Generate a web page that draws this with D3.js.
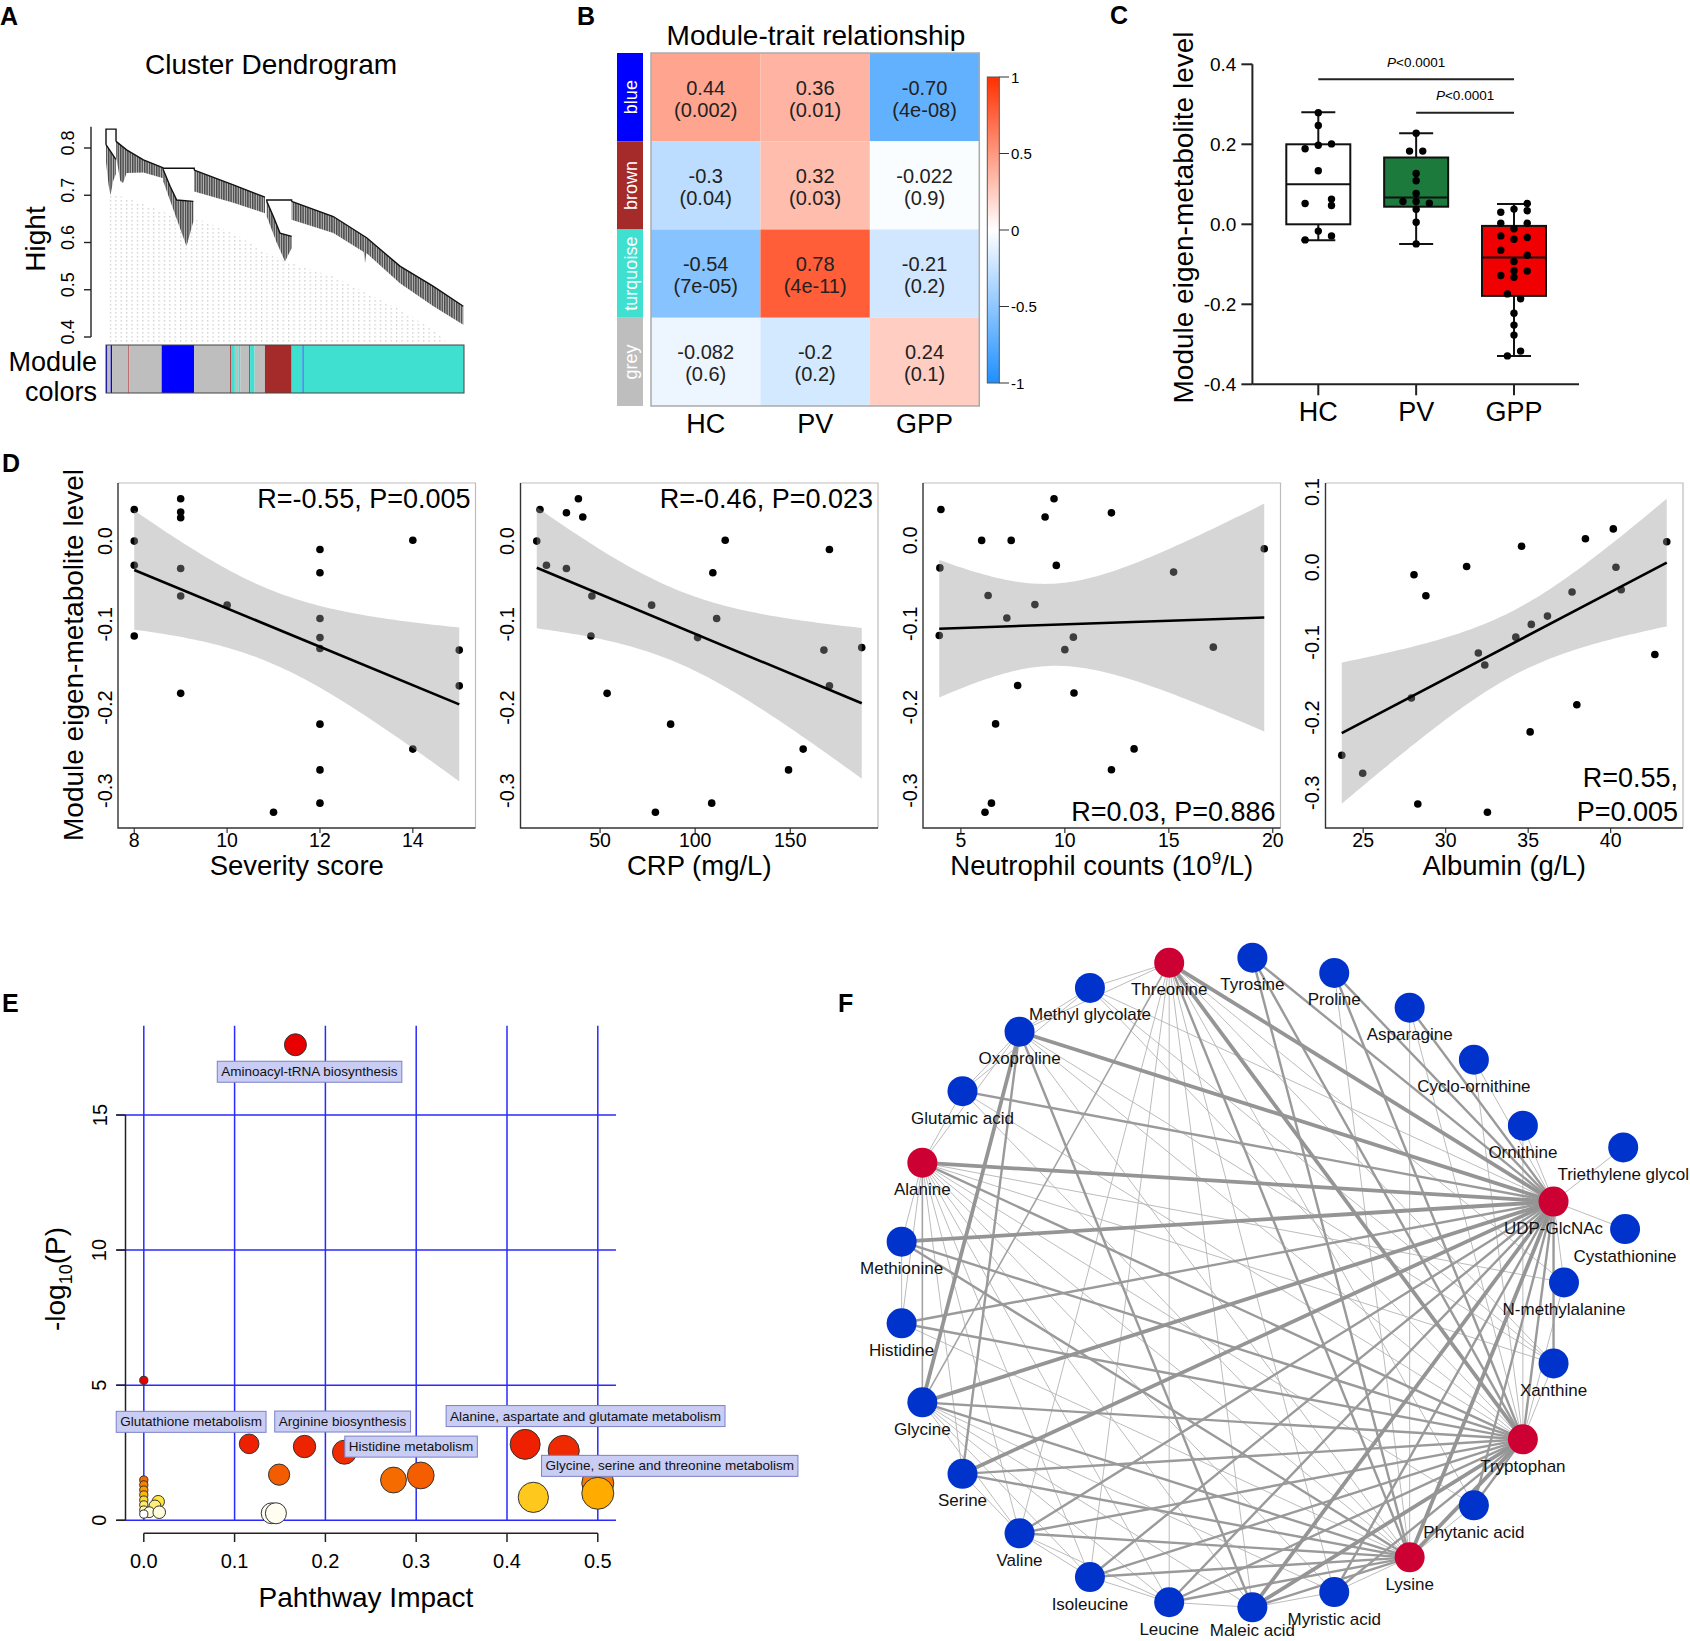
<!DOCTYPE html>
<html lang="en">
<head>
<meta charset="UTF-8">
<title>Module figure</title>
<style>
  body { margin: 0; background: #fff; }
  svg text { font-family: "Liberation Sans", Arial, sans-serif; }
</style>
</head>
<body>
<script src="https://cdn.jsdelivr.net/npm/d3@7"></script>
<script>
// ---------------- data ----------------
// A: dendrogram (leaf position 0-200, merge height)
const dendroTicks = [0.4, 0.5, 0.6, 0.7, 0.8];
const dendroBranches = [
  {top: [[0,0.807],[3,0.79],[5.5,0.776]], bottom: [[0,0.77],[1.5,0.72],[2.5,0.70],[4,0.73],[5.5,0.745]]},
  {top: [[5.6,0.814],[11.5,0.796],[20.9,0.775],[32,0.758]], bottom: [[5.6,0.782],[8,0.73],[9.5,0.726],[11.5,0.747],[20.9,0.748],[32,0.736]]},
  {top: [[32,0.754],[35.8,0.719],[39.5,0.69],[48.8,0.687]], bottom: [[32,0.729],[37.6,0.67],[42.3,0.62],[45,0.592],[47,0.62],[48.8,0.645]]},
  {top: [[49.3,0.753],[71.1,0.722],[88.8,0.696]], bottom: [[49.3,0.708],[71.1,0.684],[88.8,0.662]]},
  {top: [[89.8,0.687],[93.5,0.655],[97.2,0.62],[103.7,0.613]], bottom: [[89.8,0.655],[95.3,0.6],[100,0.56],[103.7,0.588]]},
  {top: [[103.7,0.687],[127,0.655],[145.6,0.61],[164.2,0.55],[182.9,0.507],[199.6,0.465]],
   bottom: [[103.7,0.648],[127,0.62],[144,0.58],[144.7,0.556],[145.4,0.578],[164.2,0.514],[182.9,0.465],[199.6,0.426]]}
];
const dendroLinks = [[0, 5.6, 0.84, 0.807, 0.814], [32, 49.3, 0.757, 0.754, 0.753], [89.8, 103.7, 0.69, 0.687, 0.687]];
const dendroShadow = [[2,0.705],[15,0.69],[34,0.662],[52.5,0.648],[71,0.62],[89.8,0.578],[108.4,0.55],[127,0.528],[145.6,0.493],[164.2,0.458],[182.9,0.415],[190,0.39]];
const shadowBase = 0.385;
const moduleSegments = [
  [0,0.8,'blue'],[0.8,2.6,'grey'],[2.6,3.4,'blue'],[3.4,12.5,'grey'],[12.5,13,'brown'],[13,31.1,'grey'],
  [31.1,49.3,'blue'],[49.3,69.3,'grey'],[69.3,69.8,'brown'],[69.8,72,'turquoise'],[72,74,'grey'],
  [74,75,'turquoise'],[75,80,'grey'],[80,80.5,'brown'],[80.5,83,'turquoise'],[83,88.8,'grey'],
  [88.8,103.7,'brown'],[103.7,109.9,'turquoise'],[109.9,110.4,'blue'],[110.4,200,'turquoise']
];
const moduleColor = {blue: '#0000ff', brown: '#a52a2a', turquoise: '#40e0d0', grey: '#bebebe'};

// B: module-trait correlations
const modules = ['blue', 'brown', 'turquoise', 'grey'];
const traits = ['HC', 'PV', 'GPP'];
const corVals = [[0.44, 0.36, -0.70], [-0.3, 0.32, -0.022], [-0.54, 0.78, -0.21], [-0.082, -0.2, 0.24]];
const corText = [['0.44', '0.36', '-0.70'], ['-0.3', '0.32', '-0.022'], ['-0.54', '0.78', '-0.21'], ['-0.082', '-0.2', '0.24']];
const pText = [['0.002', '0.01', '4e-08'], ['0.04', '0.03', '0.9'], ['7e-05', '4e-11', '0.2'], ['0.6', '0.2', '0.1']];
const barTicks = [-1, -0.5, 0, 0.5, 1];

// C: box plots (min, q1, median, q3, max) and points
const groups = ['HC', 'PV', 'GPP'];
const boxStats = [[-0.04, 0.0, 0.1, 0.2, 0.28], [-0.049, 0.044, 0.067, 0.167, 0.2275], [-0.329, -0.179, -0.083, -0.004, 0.051]];
const boxFill = ['#ffffff', '#1b7a3c', '#f00000'];
const hcPts = [0.279, 0.247, 0.189, 0.1975, 0.201, 0.134, 0.052, 0.063, 0.047, -0.017, -0.029, -0.039];
const hcLane = [0, 0, -1, 0, 1, 0, -1, 1, 1, 0, 1, -1];
const pvPts = [0.2275, 0.183, 0.183, 0.127, 0.109, 0.077, 0.057, 0.057, 0.0525, 0.0375, 0.005, -0.049];
const pvLane = [0, -0.5, 0.5, 0, 0, 0, -1, 0, 1, 0, 0, 0];
const gppPts = [0.052, 0.038, 0.034, 0.030, 0.0025, 0.0025, -0.011, -0.029, -0.0375, -0.033, -0.065, -0.0775,
  -0.093, -0.128, -0.116, -0.117, -0.1325, -0.174, -0.186, -0.2225, -0.252, -0.277, -0.317, -0.329];
const gppLane = [1, 0, 1, -1, -1, 1, 0, -1, 0, 1, -1, 1, 0, -1, 0, 1, 0, -0.5, 0.5, 0, 0, 0, 0.5, -0.5];
const cTicks = [-0.4, -0.2, 0, 0.2, 0.4];
const sigText = 'P<0.0001';

// D: correlations with clinical indices
const sevX = [8, 8, 8, 8, 9, 9, 9, 9, 9, 9, 10, 11, 12, 12, 12, 12, 12, 12, 12, 12, 14, 14, 15, 15];
const sevY = [0.038, 0.0, -0.029, -0.114, 0.051, 0.035, 0.028, -0.033, -0.066, -0.183, -0.077, -0.326,
  -0.010, -0.038, -0.093, -0.116, -0.129, -0.220, -0.275, -0.315, 0.001, -0.25, -0.131, -0.174];
const crpX = [16.7, 18.4, 21.8, 32.3, 32.3, 38.6, 40.9, 45.7, 45.2, 53.7, 77.1, 79.1, 87.1, 101.3, 109.3, 108.7,
  111.3, 115.8, 149.1, 156.8, 167.7, 170.6, 170.6, 187.6];
const crpY = [0.0, 0.038, -0.029, 0.034, -0.033, 0.051, 0.029, -0.066, -0.114, -0.183, -0.077, -0.326, -0.220,
  -0.116, -0.038, -0.315, -0.093, 0.001, -0.275, -0.25, -0.131, -0.010, -0.174, -0.128];
const neuX = [4.04, 3.99, 3.96, 6.0, 6.31, 6.67, 6.16, 6.47, 7.42, 7.21, 7.73, 8.56, 9.05, 9.48, 9.59, 10.0,
  10.41, 10.44, 12.24, 12.24, 13.33, 15.23, 17.14, 19.59];
const neuY = [0.037, -0.033, -0.114, 0.0, -0.066, -0.220, -0.326, -0.315, 0.0, -0.093, -0.174, -0.077, 0.028,
  0.050, -0.030, -0.131, -0.116, -0.183, 0.033, -0.275, -0.25, -0.038, -0.128, -0.010];
const albX = [23.70, 24.97, 27.92, 28.08, 28.31, 28.80, 31.27, 31.98, 32.37, 32.53, 34.25, 34.6, 35.19, 35.12,
  36.17, 37.66, 37.95, 38.47, 40.16, 40.32, 40.64, 42.68, 43.40];
const albY = [-0.250, -0.274, -0.174, -0.010, -0.315, -0.038, 0.001, -0.114, -0.130, -0.326, -0.093, 0.028,
  -0.076, -0.219, -0.065, -0.033, -0.183, 0.038, 0.051, 0.0, -0.030, -0.116, 0.034];
const sevTicks = [8, 10, 12, 14];
const crpTicks = [50, 100, 150];
const neuTicks = [5, 10, 15, 20];
const albTicks = [25, 30, 35, 40];
const eigenTicks = [0.1, 0.0, -0.1, -0.2, -0.3];
const tQuant = {21: 2.080, 22: 2.074};

// E: pathway analysis
const pathImpact = [0.167, 0.0, 0.116, 0.149, 0.177, 0.221, 0.1408, 0.1455, 0.275, 0.305, 0.420, 0.4625, 0.5, 0.429, 0.5,
  0, 0, 0, 0, 0, 0, 0, 0.0159, 0.0123, 0.006, 0.017, 0];
const pathLogP = [17.6, 5.18, 2.83, 1.69, 2.73, 2.52, 0.26, 0.26, 1.49, 1.66, 2.81, 2.57, 1.37, 0.85, 1.0,
  1.49, 1.31, 1.12, 0.94, 0.75, 0.57, 0.38, 0.69, 0.53, 0.30, 0.30, 0.23];
const pathLabelIdx = [0, 2, 4, 5, 10, 11];
const pathLabels = ['Aminoacyl-tRNA biosynthesis', 'Glutathione metabolism', 'Arginine biosynthesis',
  'Histidine metabolism', 'Alanine, aspartate and glutamate metabolism', 'Glycine, serine and threonine metabolism'];
const eXTicks = [0, 0.1, 0.2, 0.3, 0.4, 0.5];
const eYTicks = [0, 5, 10, 15];

// F: correlation network
const ringNodes = ['Threonine', 'Tyrosine', 'Proline', 'Asparagine', 'Cyclo-ornithine', 'Ornithine', 'UDP-GlcNAc',
  'N-methylalanine', 'Xanthine', 'Tryptophan', 'Phytanic acid', 'Lysine', 'Myristic acid', 'Maleic acid', 'Leucine',
  'Isoleucine', 'Valine', 'Serine', 'Glycine', 'Histidine', 'Methionine', 'Alanine', 'Glutamic acid', 'Oxoproline',
  'Methyl glycolate'];
const outerNodes = [['Triethylene glycol', 70.6, 1.249], ['Cystathionine', 82.1, 1.195]];
const hubNodes = ['Threonine', 'UDP-GlcNAc', 'Tryptophan', 'Lysine', 'Alanine'];
const edges = [
  ['UDP-GlcNAc','Threonine',3],['UDP-GlcNAc','Tyrosine',2],['UDP-GlcNAc','Proline',2],['UDP-GlcNAc','Asparagine',2],
  ['UDP-GlcNAc','Cyclo-ornithine',1],['UDP-GlcNAc','Ornithine',1],['UDP-GlcNAc','Triethylene glycol',1],
  ['UDP-GlcNAc','Cystathionine',1],['UDP-GlcNAc','N-methylalanine',1],['UDP-GlcNAc','Xanthine',2],
  ['UDP-GlcNAc','Tryptophan',2],['UDP-GlcNAc','Phytanic acid',2],['UDP-GlcNAc','Lysine',3],['UDP-GlcNAc','Myristic acid',2],
  ['UDP-GlcNAc','Maleic acid',3],['UDP-GlcNAc','Leucine',2],['UDP-GlcNAc','Isoleucine',2],['UDP-GlcNAc','Valine',2],
  ['UDP-GlcNAc','Serine',3],['UDP-GlcNAc','Glycine',3],['UDP-GlcNAc','Histidine',2],['UDP-GlcNAc','Methionine',3],
  ['UDP-GlcNAc','Alanine',3],['UDP-GlcNAc','Glutamic acid',2],['UDP-GlcNAc','Oxoproline',3],['UDP-GlcNAc','Methyl glycolate',1],
  ['Tryptophan','Threonine',3],['Tryptophan','Tyrosine',2],['Tryptophan','Proline',2],['Tryptophan','Asparagine',1],
  ['Tryptophan','Cyclo-ornithine',1],['Tryptophan','Ornithine',1],['Tryptophan','N-methylalanine',1],['Tryptophan','Xanthine',1],
  ['Tryptophan','Phytanic acid',2],['Tryptophan','Lysine',3],['Tryptophan','Myristic acid',2],['Tryptophan','Maleic acid',3],
  ['Tryptophan','Leucine',2],['Tryptophan','Isoleucine',2],['Tryptophan','Valine',2],['Tryptophan','Serine',2],
  ['Tryptophan','Glycine',2],['Tryptophan','Histidine',2],['Tryptophan','Methionine',2],['Tryptophan','Alanine',2],
  ['Tryptophan','Glutamic acid',1],['Tryptophan','Oxoproline',1],['Tryptophan','Methyl glycolate',1],
  ['Lysine','Threonine',2],['Lysine','Tyrosine',2],['Lysine','Proline',1],['Lysine','Asparagine',1],['Lysine','Phytanic acid',1],
  ['Lysine','Myristic acid',1],['Lysine','Maleic acid',2],['Lysine','Leucine',2],['Lysine','Isoleucine',2],['Lysine','Valine',2],
  ['Lysine','Serine',2],['Lysine','Glycine',2],['Lysine','Histidine',1],['Lysine','Methionine',2],['Lysine','Alanine',1],
  ['Lysine','Glutamic acid',1],['Lysine','Oxoproline',1],
  ['Threonine','Methyl glycolate',1],['Threonine','Oxoproline',1],['Threonine','Glycine',1.5],['Threonine','Leucine',1],
  ['Threonine','Maleic acid',1],['Threonine','Isoleucine',1],['Threonine','Myristic acid',1],['Threonine','Valine',1],
  ['Threonine','Phytanic acid',1],['Threonine','Xanthine',1],['Threonine','N-methylalanine',1],
  ['Alanine','Glycine',1.5],['Alanine','Methionine',1],['Alanine','Histidine',1],['Alanine','Glutamic acid',1],
  ['Alanine','Oxoproline',1],['Alanine','Xanthine',1],['Alanine','Leucine',1],['Alanine','Maleic acid',1],
  ['Alanine','Isoleucine',1],['Alanine','Valine',1],['Alanine','Phytanic acid',1],['Alanine','Myristic acid',1],
  ['Alanine','Serine',1],['Alanine','N-methylalanine',1],
  ['Oxoproline','Glycine',3],['Oxoproline','Serine',2],['Oxoproline','Maleic acid',2],['Oxoproline','Glutamic acid',1],
  ['Oxoproline','Methyl glycolate',1],['Oxoproline','Xanthine',1],['Glutamic acid','Methyl glycolate',1],
  ['Methionine','Histidine',1],['Glycine','Isoleucine',1],['Glycine','Leucine',1],['Glycine','Maleic acid',1],
  ['Glycine','Myristic acid',1],['Glycine','Valine',1],['Serine','Valine',1],['Valine','Isoleucine',1],
  ['Isoleucine','Leucine',1],['Leucine','Maleic acid',1],['Maleic acid','Myristic acid',1],['Valine','Leucine',1],
  ['Methyl glycolate','Xanthine',1]
];

// ---------------- helpers ----------------
const W = 1690, H = 1641;
const svg = d3.select('body').append('svg').attr('width', W).attr('height', H);
svg.append('rect').attr('width', W).attr('height', H).attr('fill', '#fff');
const defs = svg.append('defs');

function txt(g, x, y, s, o = {}) {
  const t = g.append('text').attr('x', x).attr('y', y).text(s)
    .attr('font-size', o.size || 20)
    .attr('text-anchor', o.anchor || 'start')
    .attr('fill', o.fill || '#000');
  if (o.weight) t.attr('font-weight', o.weight);
  if (o.family) t.attr('font-family', o.family);
  if (o.rotate) t.attr('transform', `rotate(${o.rotate},${x},${y})`);
  if (o.baseline) t.attr('dominant-baseline', o.baseline);
  return t;
}

// panel letters
[['A', 0, 25], ['B', 577, 25], ['C', 1110, 24], ['D', 2, 472], ['E', 2, 1012], ['F', 838, 1012]]
  .forEach(d => txt(svg, d[1], d[2], d[0], {size: 25, weight: 'bold'}));

// ---------------- A ----------------
{
  const g = svg.append('g');
  const x = d3.scaleLinear().domain([0, 200]).range([106, 464]);
  const y = d3.scaleLinear().domain([0.4, 0.8]).range([337, 148]);
  const dots = defs.append('pattern').attr('id', 'dots').attr('patternUnits', 'userSpaceOnUse')
    .attr('width', 5.4).attr('height', 4);
  dots.append('rect').attr('x', 2).attr('width', 1).attr('height', 1.6).attr('fill', '#c4c4c4');
  const comb = defs.append('pattern').attr('id', 'comb').attr('patternUnits', 'userSpaceOnUse')
    .attr('width', 2.4).attr('height', 8);
  comb.append('rect').attr('width', 2.4).attr('height', 8).attr('fill', '#bdbdbd');
  comb.append('rect').attr('width', 1.4).attr('height', 8).attr('fill', '#474747');

  g.append('path')
    .attr('d', d3.area().x(d => x(d[0])).y0(y(shadowBase)).y1(d => y(d[1]))(dendroShadow))
    .attr('fill', 'url(#dots)');
  const line = d3.line().x(d => x(d[0])).y(d => y(d[1]));
  dendroBranches.forEach(b => {
    g.append('path').attr('d', line(b.top.concat(b.bottom.slice().reverse())) + 'Z').attr('fill', 'url(#comb)');
    g.append('path').attr('d', line(b.top)).attr('fill', 'none').attr('stroke', '#111').attr('stroke-width', 1.4);
  });
  dendroLinks.forEach(l => {
    g.append('path')
      .attr('d', `M${x(l[0])},${y(l[3])}V${y(l[2])}H${x(l[1])}V${y(l[4])}`)
      .attr('fill', 'none').attr('stroke', '#111').attr('stroke-width', 1.4);
  });
  // axis
  g.append('line').attr('x1', 91).attr('x2', 91).attr('y1', y(0.845)).attr('y2', y(0.4))
    .attr('stroke', '#222').attr('stroke-width', 1.4);
  dendroTicks.forEach(v => {
    g.append('line').attr('x1', 84).attr('x2', 91).attr('y1', y(v)).attr('y2', y(v)).attr('stroke', '#222').attr('stroke-width', 1.4);
    txt(g, 74, y(v) - 5, v.toFixed(1), {size: 18, anchor: 'middle', rotate: -90});
  });
  txt(g, 45, 239, 'Hight', {size: 28, anchor: 'middle', rotate: -90});
  txt(g, 271, 74, 'Cluster Dendrogram', {size: 28, anchor: 'middle'});
  // module colour bar
  moduleSegments.forEach(s => {
    g.append('rect').attr('x', x(s[0])).attr('width', x(s[1]) - x(s[0])).attr('y', 345).attr('height', 48)
      .attr('fill', moduleColor[s[2]]);
  });
  g.append('rect').attr('x', x(0)).attr('width', x(200) - x(0)).attr('y', 345).attr('height', 48)
    .attr('fill', 'none').attr('stroke', '#444').attr('stroke-width', 1);
  txt(g, 97, 370.5, 'Module', {size: 27, anchor: 'end'});
  txt(g, 97, 401, 'colors', {size: 27, anchor: 'end'});
}

// ---------------- B ----------------
{
  const g = svg.append('g');
  const x = d3.scaleBand().domain(traits).range([651, 979.3]);
  const y = d3.scaleBand().domain(modules).range([53, 406]);
  const col = d3.scaleLinear().domain([-1, 0, 1]).range(['#1f8fff', '#ffffff', '#ff3000']);
  modules.forEach((m, i) => {
    g.append('rect').attr('x', 617).attr('width', 26).attr('y', y(m)).attr('height', y.bandwidth())
      .attr('fill', moduleColor[m]);
    txt(g, 636.5, y(m) + y.bandwidth() / 2, m, {size: 18, anchor: 'middle', fill: '#fff', rotate: -90});
    traits.forEach((t, j) => {
      g.append('rect').attr('x', x(t)).attr('y', y(m)).attr('width', x.bandwidth()).attr('height', y.bandwidth())
        .attr('fill', col(corVals[i][j]));
      const cx = x(t) + x.bandwidth() / 2, cy = y(m) + y.bandwidth() / 2;
      txt(g, cx, cy - 2.5, corText[i][j], {size: 20, anchor: 'middle', fill: '#222'});
      txt(g, cx, cy + 19.5, '(' + pText[i][j] + ')', {size: 20, anchor: 'middle', fill: '#222'});
    });
  });
  g.append('rect').attr('x', 651).attr('y', 53).attr('width', 328.3).attr('height', 353)
    .attr('fill', 'none').attr('stroke', '#aaa').attr('stroke-width', 1.5);
  traits.forEach(t => txt(g, x(t) + x.bandwidth() / 2, 432.7, t, {size: 27, anchor: 'middle'}));
  txt(g, 816, 45, 'Module-trait relationship', {size: 28, anchor: 'middle'});
  // colour bar
  const grad = defs.append('linearGradient').attr('id', 'cbar').attr('x1', 0).attr('x2', 0).attr('y1', 1).attr('y2', 0);
  [-1, -0.5, 0, 0.5, 1].forEach(v => grad.append('stop').attr('offset', (v + 1) / 2).attr('stop-color', col(v)));
  const yb = d3.scaleLinear().domain([-1, 1]).range([383, 77]);
  g.append('rect').attr('x', 987.3).attr('y', 77).attr('width', 12).attr('height', 306)
    .attr('fill', 'url(#cbar)').attr('stroke', '#555').attr('stroke-width', 1);
  barTicks.forEach(v => {
    g.append('line').attr('x1', 999.3).attr('x2', 1009).attr('y1', yb(v)).attr('y2', yb(v)).attr('stroke', '#333');
    txt(g, 1011, yb(v), String(v), {size: 15, baseline: 'central'});
  });
}

// ---------------- C ----------------
{
  const g = svg.append('g');
  const y = d3.scaleLinear().domain([-0.4, 0.4]).range([384.3, 64.3]);
  const x = d3.scalePoint().domain(groups).range([1318.3, 1514]);
  const ax = 1252.4, bw = 64, lane = 13.2, cap = 34;
  g.append('line').attr('x1', ax).attr('x2', ax).attr('y1', y(0.4)).attr('y2', y(-0.4)).attr('stroke', '#222').attr('stroke-width', 2);
  g.append('line').attr('x1', ax).attr('x2', 1579).attr('y1', y(-0.4)).attr('y2', y(-0.4)).attr('stroke', '#222').attr('stroke-width', 2);
  cTicks.forEach(v => {
    g.append('line').attr('x1', ax - 11).attr('x2', ax).attr('y1', y(v)).attr('y2', y(v)).attr('stroke', '#222').attr('stroke-width', 2);
    txt(g, ax - 16, y(v), v.toFixed(1), {size: 19, anchor: 'end', baseline: 'central'});
  });
  groups.forEach((gr, i) => {
    const cx = x(gr), s = boxStats[i];
    g.append('line').attr('x1', cx).attr('x2', cx).attr('y1', y(-0.4)).attr('y2', y(-0.4) + 11).attr('stroke', '#222').attr('stroke-width', 2);
    txt(g, cx, 421, gr, {size: 27, anchor: 'middle'});
    g.append('line').attr('x1', cx).attr('x2', cx).attr('y1', y(s[0])).attr('y2', y(s[4])).attr('stroke', '#111').attr('stroke-width', 2);
    [s[0], s[4]].forEach(v => g.append('line').attr('x1', cx - cap / 2).attr('x2', cx + cap / 2)
      .attr('y1', y(v)).attr('y2', y(v)).attr('stroke', '#111').attr('stroke-width', 2));
    g.append('rect').attr('x', cx - bw / 2).attr('width', bw).attr('y', y(s[3])).attr('height', y(s[1]) - y(s[3]))
      .attr('fill', boxFill[i]).attr('stroke', '#111').attr('stroke-width', 2);
    g.append('line').attr('x1', cx - bw / 2).attr('x2', cx + bw / 2).attr('y1', y(s[2])).attr('y2', y(s[2]))
      .attr('stroke', '#111').attr('stroke-width', 2);
  });
  [[hcPts, hcLane, 'HC'], [pvPts, pvLane, 'PV'], [gppPts, gppLane, 'GPP']].forEach(([pts, ln, gr]) => {
    pts.forEach((v, k) => g.append('circle').attr('cx', x(gr) + ln[k] * lane).attr('cy', y(v)).attr('r', 3.7).attr('fill', '#000'));
  });
  // significance bars
  [[['HC', 'GPP'], 79.3, 67], [['PV', 'GPP'], 112.7, 100]].forEach(([pair, ly, ty]) => {
    g.append('line').attr('x1', x(pair[0])).attr('x2', x(pair[1])).attr('y1', ly).attr('y2', ly).attr('stroke', '#222').attr('stroke-width', 2);
    const t = g.append('text').attr('x', (x(pair[0]) + x(pair[1])) / 2).attr('y', ty).attr('text-anchor', 'middle')
      .attr('font-size', 13.5);
    t.append('tspan').attr('font-style', 'italic').text(sigText[0]);
    t.append('tspan').text(sigText.slice(1));
  });
  txt(g, 1193, 217.5, 'Module eigen-metabolite level', {size: 28, anchor: 'middle', rotate: -90});
}

// ---------------- D ----------------
{
  const g = svg.append('g');
  const panels = [
    {x: sevX, y: sevY, ticks: sevTicks, title: ['Severity score'], note: ['R=-0.55, P=0.005'], pos: 'top'},
    {x: crpX, y: crpY, ticks: crpTicks, title: ['CRP (mg/L)'], note: ['R=-0.46, P=0.023'], pos: 'top'},
    {x: neuX, y: neuY, ticks: neuTicks, title: ['Neutrophil counts (10', '9', '/L)'], note: ['R=0.03, P=0.886'], pos: 'bottom'},
    {x: albX, y: albY, ticks: albTicks, title: ['Albumin (g/L)'], note: ['R=0.55,', 'P=0.005'], pos: 'bottom'}
  ];
  const top = 483, bot = 828, pw = 357.5;
  panels.forEach((p, i) => {
    const left = 118 + i * 402.5, right = left + pw;
    // linear fit with 95% confidence band
    const n = p.x.length, mx = d3.mean(p.x), my = d3.mean(p.y);
    const sxx = d3.sum(p.x, v => (v - mx) ** 2);
    const sxy = d3.sum(p.x.map((v, k) => (v - mx) * (p.y[k] - my)));
    const b = sxy / sxx, a = my - b * mx;
    const s = Math.sqrt(d3.sum(p.x.map((v, k) => (p.y[k] - a - b * v) ** 2)) / (n - 2));
    const t = tQuant[n - 2];
    const [x0, x1] = d3.extent(p.x);
    const band = d3.range(81).map(k => {
      const xv = x0 + (x1 - x0) * k / 80, fit = a + b * xv;
      const se = s * Math.sqrt(1 / n + (xv - mx) ** 2 / sxx);
      return [xv, fit - t * se, fit + t * se];
    });
    const xr = x1 - x0;
    const x = d3.scaleLinear().domain([x0 - 0.05 * xr, x1 + 0.05 * xr]).range([left, right]);
    const ylo = d3.min([d3.min(p.y), d3.min(band, d => d[1])]);
    const yhi = d3.max([d3.max(p.y), d3.max(band, d => d[2])]);
    const yr = yhi - ylo;
    const y = d3.scaleLinear().domain([ylo - 0.05 * yr, yhi + 0.05 * yr]).range([bot, top]);

    p.x.forEach((v, k) => g.append('circle').attr('cx', x(v)).attr('cy', y(p.y[k])).attr('r', 3.8).attr('fill', '#000'));
    g.append('path').attr('d', d3.area().x(d => x(d[0])).y0(d => y(d[1])).y1(d => y(d[2]))(band))
      .attr('fill', '#999').attr('fill-opacity', 0.4);
    g.append('line').attr('x1', x(x0)).attr('x2', x(x1)).attr('y1', y(a + b * x0)).attr('y2', y(a + b * x1))
      .attr('stroke', '#000').attr('stroke-width', 2.6);

    g.append('path').attr('d', `M${left},${top}H${right}V${bot}`).attr('fill', 'none').attr('stroke', '#bdbdbd').attr('stroke-width', 1.2);
    g.append('path').attr('d', `M${left},${top}V${bot}H${right}`).attr('fill', 'none').attr('stroke', '#333').attr('stroke-width', 1.4);
    p.ticks.forEach(v => {
      g.append('line').attr('x1', x(v)).attr('x2', x(v)).attr('y1', bot).attr('y2', bot + 5).attr('stroke', '#333').attr('stroke-width', 1.2);
      txt(g, x(v), 846.5, String(v), {size: 19.5, anchor: 'middle'});
    });
    eigenTicks.filter(v => v >= y.domain()[0] && v <= y.domain()[1]).forEach(v => {
      txt(g, left - 6, y(v), v.toFixed(1), {size: 20, anchor: 'middle', rotate: -90});
    });
    const tt = g.append('text').attr('x', (left + right) / 2).attr('y', 875).attr('text-anchor', 'middle').attr('font-size', 27.5);
    tt.append('tspan').text(p.title[0]);
    if (p.title.length > 1) {
      tt.append('tspan').attr('font-size', 17).attr('dy', -11).text(p.title[1]);
      tt.append('tspan').attr('dy', 11).text(p.title[2]);
    }
    if (p.pos === 'top') {
      txt(g, right - 5, 508, p.note[0], {size: 27, anchor: 'end'});
    } else {
      p.note.forEach((s2, k) => txt(g, right - 5, 821 - (p.note.length - 1 - k) * 34, s2, {size: 27, anchor: 'end'}));
    }
  });
  txt(g, 83, 655, 'Module eigen-metabolite level', {size: 28, anchor: 'middle', rotate: -90});
}

// ---------------- E ----------------
{
  const g = svg.append('g');
  const x = d3.scaleLinear().domain([0, 0.5]).range([143.8, 597.8]);
  const y = d3.scaleLinear().domain([0, 15]).range([1520.3, 1115]);
  const r = d3.scalePow().exponent(0.5).domain([0, 0.5]).range([4.1, 16]);
  const heat = d3.scaleLinear().domain([0.23, 0.4, 0.7, 1.0, 1.5, 2.0, 2.8, 5])
    .range(['#ffffff', '#fff7a8', '#ffe53a', '#ffab00', '#f56a00', '#f24400', '#ee2000', '#e80000']).clamp(true);
  const blue = '#2a2aff';
  eXTicks.forEach(v => g.append('line').attr('x1', x(v)).attr('x2', x(v)).attr('y1', y(18.3)).attr('y2', y(0))
    .attr('stroke', blue).attr('stroke-width', 1.5));
  eYTicks.forEach(v => g.append('line').attr('x1', x(-0.03)).attr('x2', x(0.52)).attr('y1', y(v)).attr('y2', y(v))
    .attr('stroke', blue).attr('stroke-width', 1.5));
  g.append('line').attr('x1', 125.5).attr('x2', 125.5).attr('y1', y(15)).attr('y2', y(0)).attr('stroke', '#222').attr('stroke-width', 1.5);
  eYTicks.forEach(v => {
    g.append('line').attr('x1', 116).attr('x2', 125.5).attr('y1', y(v)).attr('y2', y(v)).attr('stroke', '#222').attr('stroke-width', 1.5);
    txt(g, 106.5, y(v), String(v), {size: 20, anchor: 'middle', rotate: -90});
  });
  g.append('line').attr('x1', x(0)).attr('x2', x(0.5)).attr('y1', 1533.3).attr('y2', 1533.3).attr('stroke', '#222').attr('stroke-width', 1.5);
  eXTicks.forEach(v => {
    g.append('line').attr('x1', x(v)).attr('x2', x(v)).attr('y1', 1533.3).attr('y2', 1542).attr('stroke', '#222').attr('stroke-width', 1.5);
    txt(g, x(v), 1568, v.toFixed(1), {size: 20, anchor: 'middle'});
  });
  pathImpact.forEach((v, k) => g.append('circle').attr('cx', x(v)).attr('cy', y(pathLogP[k])).attr('r', r(v))
    .attr('fill', heat(pathLogP[k])).attr('stroke', '#333').attr('stroke-width', 1));
  const offs = [[14, 27], [-58, -22], [38, -25], [66.6, -5.6], [60.4, -28.3], [106, 15]];
  pathLabelIdx.forEach((idx, k) => {
    const cx = x(pathImpact[idx]) + offs[k][0], cy = y(pathLogP[idx]) + offs[k][1];
    const lg = g.append('g');
    const rect = lg.append('rect');
    const t = txt(lg, cx, cy, pathLabels[k], {size: 13.5, anchor: 'middle', baseline: 'central', family: '"DejaVu Sans", sans-serif', fill: '#111'});
    const bb = t.node().getBBox();
    rect.attr('x', bb.x - 4).attr('y', cy - 10.5).attr('width', bb.width + 8).attr('height', 21)
      .attr('fill', '#c9cdf4').attr('stroke', '#7b80c8').attr('stroke-width', 1);
  });
  const yt = g.append('text').attr('x', 65).attr('y', 1279).attr('text-anchor', 'middle').attr('font-size', 28)
    .attr('transform', 'rotate(-90,65,1279)');
  yt.append('tspan').text('-log');
  yt.append('tspan').attr('font-size', 18).attr('dy', 7).text('10');
  yt.append('tspan').attr('dy', -7).text('(P)');
  txt(g, 366, 1607, 'Pahthway Impact', {size: 28, anchor: 'middle'});
}

// ---------------- F ----------------
{
  const g = svg.append('g');
  const cx = 1231.5, cy = 1282.5, rx = 332.5, ry = 325.5;
  const ang = d3.scaleLinear().domain([0, ringNodes.length]).range([-10.8, 349.2]);
  const pos = {};
  const place = (name, deg, f) => {
    const a = deg * Math.PI / 180;
    pos[name] = [cx + f * rx * Math.sin(a), cy - f * ry * Math.cos(a)];
  };
  ringNodes.forEach((n, i) => place(n, ang(i), 1));
  outerNodes.forEach(o => place(o[0], o[1], o[2]));
  const wid = {1: 0.9, 1.5: 1.6, 2: 2.4, 3: 3.8};
  const ecol = {1: '#b4b4b4', 1.5: '#a4a4a4', 2: '#9a9a9a', 3: '#959595'};
  edges.slice().sort((p, q) => p[2] - q[2]).forEach(e => {
    const p = pos[e[0]], q = pos[e[1]];
    g.append('line').attr('x1', p[0]).attr('y1', p[1]).attr('x2', q[0]).attr('y2', q[1])
      .attr('stroke', ecol[e[2]]).attr('stroke-width', wid[e[2]]);
  });
  Object.keys(pos).forEach(n => {
    g.append('circle').attr('cx', pos[n][0]).attr('cy', pos[n][1]).attr('r', 15)
      .attr('fill', hubNodes.includes(n) ? '#cc0033' : '#0033cc');
  });
  Object.keys(pos).forEach(n => txt(g, pos[n][0], Math.min(pos[n][1] + 32.5, H - 5), n, {size: 17, anchor: 'middle', fill: '#111'}));
}
</script>
</body>
</html>
